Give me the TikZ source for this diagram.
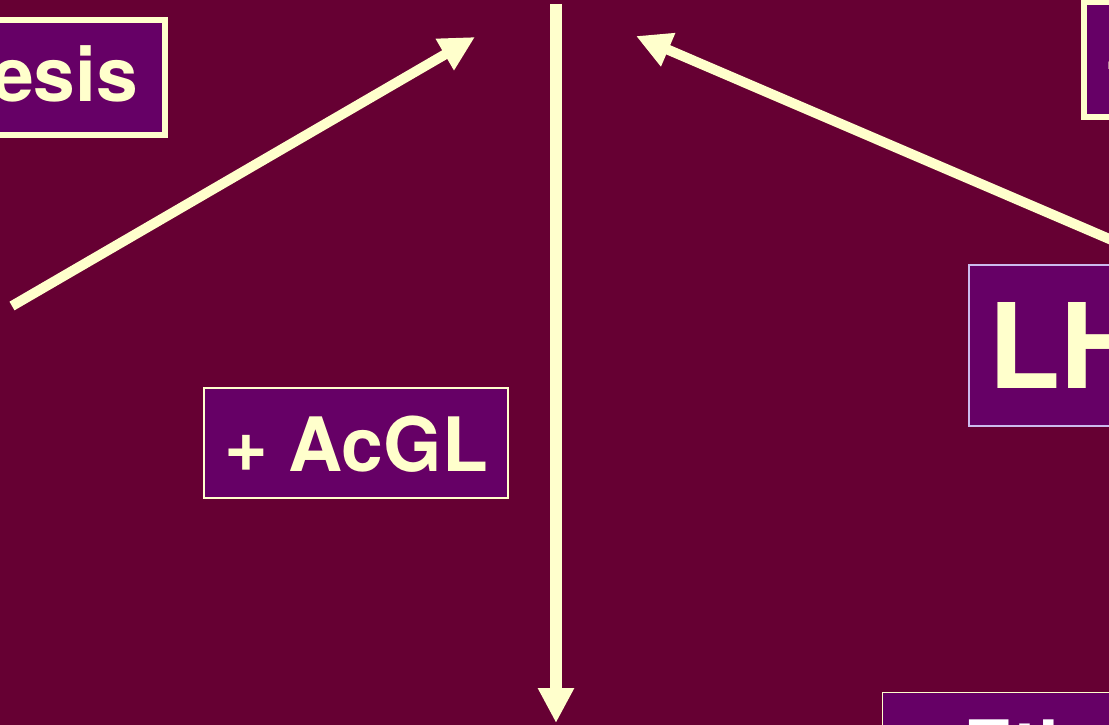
\documentclass[tikz,border=0pt]{standalone}
\usepackage{fontspec}
\setmainfont{TeX Gyre Heros}
\usetikzlibrary{arrows.meta,calc}
\definecolor{bg}{HTML}{660033}
\definecolor{boxfill}{HTML}{660066}
\definecolor{cream}{HTML}{FFFFCC}
\definecolor{lav}{HTML}{CCBBEE}
\begin{document}
\begin{tikzpicture}[x=1pt,y=-1pt,
  lbl/.style={font=\fontsize{75}{80}\selectfont\bfseries, text=cream, fill=boxfill, inner ysep=0pt, outer sep=0pt},
  arr/.style={draw=cream, line width=10pt, -{Triangle[length=35pt,width=34pt]}},
]
\useasboundingbox (0,0) rectangle (1109,725);
\fill[bg] (0,0) rectangle (1109,725);
\begin{scope}
\clip (0,0) rectangle (1109,725);
\node[lbl, draw=cream, line width=6pt, anchor=base east, inner xsep=27pt, text height=80.5pt, text depth=33.5pt] (gen) at (165,101) {esis};
\node[lbl, draw=cream, line width=2pt, minimum width=304pt, inner xsep=10pt, text height=83pt, text depth=27pt, anchor=base] (acgl) at (356,471) {+ AcGL};
\node[lbl, draw=cream, line width=6pt, anchor=base west, inner xsep=20pt, text height=82pt, text depth=32pt] (plus) at (1084,84.5) {\makebox[150pt][l]{+}};
\node[lbl, draw=lav, line width=1.5pt, font=\fontsize{118}{120}\selectfont\bfseries, anchor=base west, inner xsep=19pt, text height=123pt, text depth=38pt] (lh) at (969,388) {\makebox[250pt][l]{LH}};
\node[lbl, draw=cream, line width=1.5pt, text=white, anchor=base west, inner xsep=16.5pt, text height=81.5pt, text depth=27pt] (eth) at (882.5,774) {\makebox[300pt][l]{+ Eth}};
\coordinate (lt) at (12,306);
\coordinate (ltip) at (475,37);
\coordinate (vtop) at (556,4);
\coordinate (vtip) at (556,723);
\coordinate (rtip) at (636,36);
\draw[arr] (lt) -- (ltip);
\draw[arr, line width=11.5pt] (vtop) -- (vtip);
\draw[arr] ($(lh.north west)+(201,0)$) -- (rtip);
\end{scope}
\end{tikzpicture}
\end{document}
